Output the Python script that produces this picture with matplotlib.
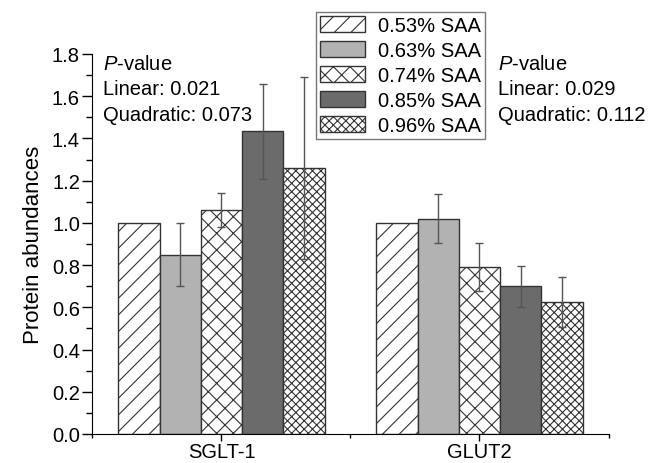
import matplotlib
matplotlib.use('Agg')
import matplotlib.pyplot as plt
import numpy as np

plt.rcParams['font.family'] = ['Liberation Sans', 'DejaVu Sans']
plt.rcParams['mathtext.fontset'] = 'custom'
plt.rcParams['mathtext.rm'] = 'Liberation Sans'
plt.rcParams['mathtext.it'] = 'Liberation Sans:italic'
plt.rcParams['hatch.linewidth'] = 0.8

groups = ['SGLT-1', 'GLUT2']
levels = ['0.53% SAA', '0.63% SAA', '0.74% SAA', '0.85% SAA', '0.96% SAA']
means = [[1.00, 1.00],
         [0.85, 1.02],
         [1.06, 0.79],
         [1.435, 0.70],
         [1.26, 0.625]]
errs = [[0.0, 0.0],
        [0.15, 0.117],
        [0.08, 0.115],
        [0.225, 0.098],
        [0.43, 0.12]]
pvals = [['0.021', '0.073'], ['0.029', '0.112']]

colors = ['white', '#b2b2b2', 'white', '#6b6b6b', 'white']
hatches = ['//', '', 'xx', '', 'xxxx']

fig = plt.figure(figsize=(6.52, 4.64), dpi=100)
ax = fig.add_axes([0.1418, 0.0625, 0.7915, 0.819])

x = np.arange(1, len(groups) + 1)
w = 0.16
for i in range(len(levels)):
    pos = x + (i - 2) * w
    err = [e if e > 0 else np.nan for e in errs[i]]
    ax.bar(pos, means[i], w, color=colors[i], edgecolor='#333333', linewidth=1,
           hatch=hatches[i], label=levels[i], zorder=2)
    ax.errorbar(pos, means[i], yerr=err, fmt='none', ecolor='#555555',
                elinewidth=1, capsize=3, capthick=1, zorder=3)

ax.set_xlim(0.5, 2.5)
ax.set_ylim(0, 1.8)
ax.set_xticks(x)
ax.set_xticklabels(groups, fontsize=14.5)
ax.set_xticks([0.5, 1.5, 2.5], minor=True)
ax.set_yticks(np.arange(0, 1.81, 0.2))
ax.set_yticks(np.arange(0.1, 1.8, 0.2), minor=True)
ax.set_yticklabels(['%.1f' % v for v in np.arange(0, 1.81, 0.2)], fontsize=14.5)
ax.tick_params(axis='y', which='major', direction='out', length=7, width=1, pad=2)
ax.tick_params(axis='y', which='minor', direction='out', length=4, width=1)
ax.tick_params(axis='x', which='major', direction='out', length=5, width=1, pad=0.5)
ax.tick_params(axis='x', which='minor', direction='out', length=3, width=1)
ax.spines['top'].set_visible(False)
ax.spines['right'].set_visible(False)
ax.set_ylabel('Protein abundances', fontsize=16, labelpad=6)

for xt, p in zip([0.54, 2.07], pvals):
    ax.text(xt, 1.755, r'$\mathit{P}$-value', fontsize=14.5, va='center', ha='left')
    ax.text(xt, 1.637, 'Linear: ' + p[0], fontsize=14.5, va='center', ha='left')
    ax.text(xt, 1.515, 'Quadratic: ' + p[1], fontsize=14.5, va='center', ha='left')

leg = fig.legend(loc='upper left', bbox_to_anchor=(316 / 652, 1 - 13 / 464),
                 fontsize=14.5, frameon=True, fancybox=False, edgecolor='#555555',
                 handlelength=2.25, handleheight=0.85, labelspacing=0.3,
                 borderpad=0.2, handletextpad=0.65, borderaxespad=0)
leg.get_frame().set_linewidth(1)

fig.savefig('out.png', dpi=100)
